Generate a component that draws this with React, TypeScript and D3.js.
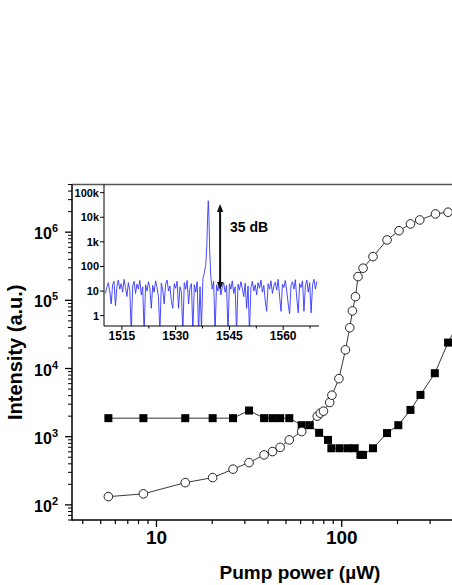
import React from 'react';
import * as d3 from 'd3';

// main plot: open circles (emission) and filled squares (linewidth-like quantity)
const circlePower = [5.5, 8.5, 14.3, 20.1, 25.9, 31.6, 38.1, 42.3, 46.5, 52.1, 60.8, 73.8, 76.6, 79.7, 86.1, 88.5, 96.6, 104.7, 110.5, 114.2, 118.6, 122.4, 130.3, 147.5, 175.6, 203.8, 234.9, 263.7, 320.6, 375, 440];
const circleIntensity = [132, 145, 212, 251, 334, 417, 541, 605, 697, 897, 1190, 2000, 2210, 2370, 3180, 4060, 7100, 18800, 39600, 70000, 113000, 223000, 296000, 438000, 769000, 1050000, 1320000, 1510000, 1850000, 1960000, 2050000];

const squarePower = [5.5, 8.5, 14.3, 20.1, 25.9, 31.6, 38.1, 42.3, 46.5, 52.1, 60.8, 67.2, 75.5, 84.3, 87.9, 97.5, 108.1, 117.5, 126.1, 130.3, 147.5, 175.6, 202, 235, 266, 318, 375, 440];
const squareIntensity = [1870, 1870, 1870, 1870, 1870, 2420, 1870, 1870, 1870, 1870, 1475, 1475, 1140, 897, 677, 677, 677, 677, 541, 541, 677, 1130, 1475, 2470, 4100, 8530, 24000, 55000];

const xMajorTicks = [10, 100, 1000];
const xTickLabels = ['10', '100', ''];
const yMajorTicks = [1e2, 1e3, 1e4, 1e5, 1e6];
const yTickExponents = ['2', '3', '4', '5', '6'];

// inset: emission spectrum (wavelength nm, counts)
const spectrumWavelength = [
  1510.4, 1510.8, 1511.2, 1511.6, 1512.0, 1512.4, 1512.8, 1513.2, 1513.6, 1514.0,
  1514.4, 1514.8, 1515.2, 1515.6, 1516.0, 1516.4, 1516.8, 1517.2, 1517.6, 1518.0,
  1518.4, 1518.8, 1519.2, 1519.6, 1520.0, 1520.4, 1520.8, 1521.2, 1521.6, 1522.0,
  1522.4, 1522.8, 1523.2, 1523.6, 1524.0, 1524.4, 1524.8, 1525.2, 1525.6, 1526.0,
  1526.4, 1526.8, 1527.2, 1527.6, 1528.0, 1528.4, 1528.8, 1529.2, 1529.6, 1530.0,
  1530.4, 1530.8, 1531.2, 1531.6, 1532.0, 1532.4, 1532.8, 1533.2, 1533.6, 1534.0,
  1534.4, 1534.8, 1535.2, 1535.6, 1536.0, 1536.4, 1536.8, 1537.2, 1537.6, 1538.0,
  1538.4, 1538.7, 1538.9, 1539.1, 1539.3, 1539.5, 1539.8, 1540.2, 1540.6, 1541.0,
  1541.4, 1541.8, 1542.2, 1542.6, 1543.0, 1543.4, 1543.8, 1544.2, 1544.6, 1545.0,
  1545.4, 1545.8, 1546.2, 1546.6, 1547.0, 1547.4, 1547.8, 1548.2, 1548.6, 1549.0,
  1549.4, 1549.8, 1550.2, 1550.6, 1551.0, 1551.4, 1551.8, 1552.2, 1552.6, 1553.0,
  1553.4, 1553.8, 1554.2, 1554.6, 1555.0, 1555.4, 1555.8, 1556.2, 1556.6, 1557.0,
  1557.4, 1557.8, 1558.2, 1558.6, 1559.0, 1559.4, 1559.8, 1560.2, 1560.6, 1561.0,
  1561.4, 1561.8, 1562.2, 1562.6, 1563.0, 1563.4, 1563.8, 1564.2, 1564.6, 1565.0,
  1565.4, 1565.8, 1566.2, 1566.6, 1567.0, 1567.4, 1567.8, 1568.2, 1568.6, 1569.0,
  1569.4,
];
const spectrumCounts = [
  8, 14, 22, 10, 3, 18, 25, 2.5, 15, 28,
  12, 20, 9, 30, 14, 6, 22, 11, 0.2, 16,
  25, 8, 19, 12, 27, 7, 15, 0.2, 18, 10,
  24, 13, 2, 17, 9, 26, 14, 6, 0.2, 21,
  11, 3, 19, 28, 10, 16, 4, 2, 20, 13,
  25, 2, 15, 9, 0.2, 22, 12, 27, 3, 14,
  20, 0.2, 18, 9, 24, 0.2, 15, 0.3, 32, 55,
  120, 700, 9000, 47000, 9000, 400, 40, 12, 25, 0.2,
  18, 10, 28, 7, 14, 22, 9, 17, 0.2, 20,
  12, 26, 8, 15, 0.2, 19, 11, 24, 13, 6,
  21, 2, 16, 0.2, 14, 25, 10, 18, 7, 22,
  13, 28, 9, 17, 4, 1.5, 20, 12, 26, 8,
  16, 23, 11, 30, 6, 1.5, 19, 14, 27, 10,
  3, 1.2, 18, 24, 12, 29, 5, 1.3, 20, 14,
  26, 1.5, 16, 28, 9, 22, 1.3, 18, 30, 12,
  25,
];
const insetXTicks = [1515, 1530, 1545, 1560];
const insetXMinor = [1522.5, 1537.5, 1552.5, 1567.5];
const insetYTicks = [1, 10, 100, 1e3, 1e4, 1e5];
const insetYLabels = ['1', '10', '100', '1k', '10k', '100k'];
const arrowRange = [11, 35000];
const arrowWavelength = 1542.4;

const FONT = '"Liberation Sans", Arial, Helvetica, sans-serif';

const minorTicks = (lo: number, hi: number) => {
  const out: number[] = [];
  for (let e = Math.floor(Math.log10(lo)); e <= Math.ceil(Math.log10(hi)); e++) {
    for (let m = 2; m <= 9; m++) {
      const v = m * Math.pow(10, e);
      if (v >= lo && v <= hi) out.push(v);
    }
  }
  return out;
};

const App = () => {
  const width = 452;
  const height = 585;
  const left = 72, right = 527, top = 184.5, bottom = 520;

  const x = d3.scaleLog().domain([3.5, 1000]).range([left, right]);
  const y = d3.scaleLog().domain([60, 5e6]).range([bottom, top]);

  const circles = circlePower.map((p, i) => [p, circleIntensity[i]] as [number, number]);
  const squares = squarePower.map((p, i) => [p, squareIntensity[i]] as [number, number]);
  const mainLine = d3.line<[number, number]>().x(d => x(d[0])).y(d => y(d[1]));

  // inset scales
  const iLeft = 104, iRight = 319, iTop = 184.5, iBottom = 326;
  const ix = d3.scaleLinear().domain([1510, 1570]).range([iLeft, iRight]);
  const iy = d3.scaleLog().domain([0.38, 2.15e5]).range([iBottom, iTop]);
  const spectrum = spectrumWavelength.map((w, i) => [w, spectrumCounts[i]] as [number, number]);
  const specLine = d3.line<[number, number]>().x(d => ix(d[0])).y(d => iy(d[1]));

  const ax = ix(arrowWavelength);
  const aTop = iy(arrowRange[1]);
  const aBot = iy(arrowRange[0]);

  return (
    <svg width={width} height={height} style={{ position: 'absolute', left: 0, top: 0, background: '#fff' }}
      fontFamily={FONT} fontWeight="bold">
      <defs>
        <clipPath id="insetClip">
          <rect x={iLeft} y={iTop} width={iRight - iLeft + 2} height={iBottom - iTop} />
        </clipPath>
      </defs>

      {/* frame */}
      <line x1={left} x2={right} y1={top} y2={top} stroke="#555" strokeWidth={1.5} />
      <line x1={left} x2={left} y1={top} y2={bottom + 0.75} stroke="#000" strokeWidth={1.5} />
      <line x1={left} x2={right} y1={bottom} y2={bottom} stroke="#000" strokeWidth={1.5} />

      {/* x ticks */}
      {xMajorTicks.map((t, i) => (
        <g key={'xt' + t}>
          <line x1={x(t)} x2={x(t)} y1={bottom} y2={bottom + 7} stroke="#000" strokeWidth={1.3} />
          {xTickLabels[i] && <text x={x(t)} y={544} textAnchor="middle" fontSize={19}>{xTickLabels[i]}</text>}
        </g>
      ))}
      {minorTicks(3.5, 1000).map(t => (
        <line key={'xm' + t} x1={x(t)} x2={x(t)} y1={bottom} y2={bottom + 4} stroke="#000" strokeWidth={1.2} />
      ))}

      {/* y ticks */}
      {yMajorTicks.map((t, i) => (
        <g key={'yt' + t}>
          <line x1={left - 7} x2={left} y1={y(t)} y2={y(t)} stroke="#000" strokeWidth={1.3} />
          <text x={58} y={y(t) + 7} textAnchor="end" fontSize={16}>
            10<tspan fontSize={11} dy={-7}>{yTickExponents[i]}</tspan>
          </text>
        </g>
      ))}
      {minorTicks(60, 5e6).map(t => (
        <line key={'ym' + t} x1={left - 4} x2={left} y1={y(t)} y2={y(t)} stroke="#000" strokeWidth={1} />
      ))}

      {/* axis titles */}
      <text x={300} y={579} textAnchor="middle" fontSize={19}>Pump power (µW)</text>
      <text transform={`translate(22,${(top + bottom) / 2}) rotate(-90)`} textAnchor="middle" fontSize={20}>
        Intensity (a.u.)
      </text>

      {/* square series */}
      <path d={mainLine(squares) || ''} fill="none" stroke="#333" strokeWidth={1} />
      {squares.map((d, i) => (
        <rect key={'s' + i} x={x(d[0]) - 4} y={y(d[1]) - 4} width={8} height={8} fill="#000" />
      ))}

      {/* circle series */}
      <path d={mainLine(circles) || ''} fill="none" stroke="#222" strokeWidth={0.9} />
      {circles.map((d, i) => (
        <circle key={'c' + i} cx={x(d[0])} cy={y(d[1])} r={4.3} fill="#fff" stroke="#222" strokeWidth={1} />
      ))}

      {/* inset */}
      <g>
        <path d={specLine(spectrum) || ''} fill="none" stroke="#3535ff" strokeWidth={0.9}
          clipPath="url(#insetClip)" />
        <line x1={iLeft} x2={iLeft} y1={iTop} y2={iBottom} stroke="#000" strokeWidth={1} />
        <line x1={iLeft} x2={iRight} y1={iBottom} y2={iBottom} stroke="#000" strokeWidth={1} />
        {insetYTicks.map((t, i) => (
          <g key={'iyt' + t}>
            <line x1={iLeft - 4} x2={iLeft} y1={iy(t)} y2={iy(t)} stroke="#000" strokeWidth={1} />
            <text x={iLeft - 5} y={iy(t) + 4} textAnchor="end" fontSize={11}>{insetYLabels[i]}</text>
          </g>
        ))}
        {insetXTicks.map(t => (
          <g key={'ixt' + t}>
            <line x1={ix(t)} x2={ix(t)} y1={iBottom} y2={iBottom + 4} stroke="#000" strokeWidth={1} />
            <text x={ix(t)} y={340} textAnchor="middle" fontSize={12}>{t}</text>
          </g>
        ))}
        {insetXMinor.map(t => (
          <line key={'ixm' + t} x1={ix(t)} x2={ix(t)} y1={iBottom} y2={iBottom + 2.5} stroke="#000" strokeWidth={1} />
        ))}

        {/* 35 dB arrow */}
        <line x1={ax} x2={ax} y1={aTop + 6} y2={aBot - 6} stroke="#111" strokeWidth={2} />
        <path d={`M${ax},${aTop} L${ax - 3.2},${aTop + 8} L${ax + 3.2},${aTop + 8} Z`} fill="#111" />
        <path d={`M${ax},${aBot} L${ax - 3.2},${aBot - 8} L${ax + 3.2},${aBot - 8} Z`} fill="#111" />
        <text x={230} y={231.5} fontSize={14}>35 dB</text>
      </g>
    </svg>
  );
};

export default App;
